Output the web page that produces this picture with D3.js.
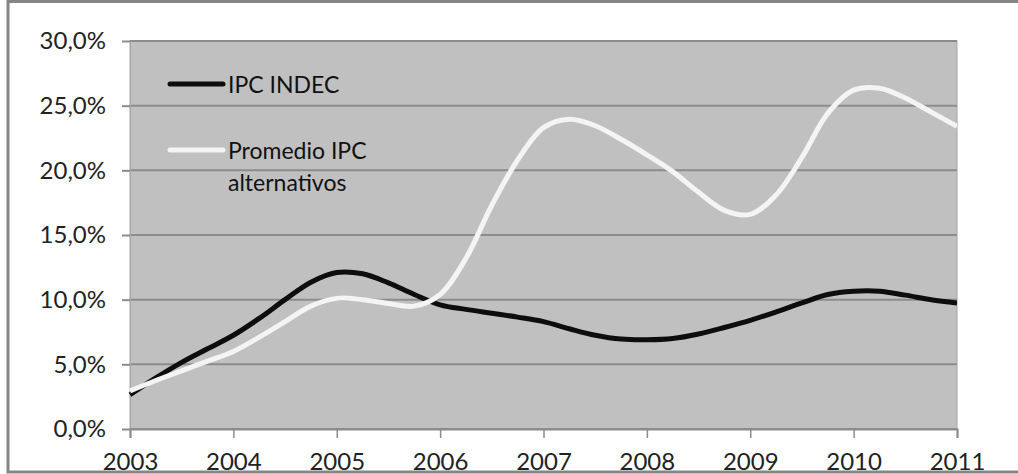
<!DOCTYPE html>
<html>
<head>
<meta charset="utf-8">
<script src="https://cdn.jsdelivr.net/npm/d3@7/dist/d3.min.js"></script>
<style>
  html, body { margin: 0; padding: 0; background: #ffffff; }
  svg { display: block; font-family: Lato, "Noto Sans", sans-serif; }
</style>
</head>
<body>
<svg id="chart" width="1018" height="474"></svg>
<script>
// Quarterly observations, 2003 Q1 through 2011 Q1 (annual inflation, %)
const periods = d3.range(0, 33).map(k => 2003 + k / 4);
const ipcIndec = [
  2.65, 3.95, 5.15, 6.2, 7.25, 8.55, 10.0, 11.35,
  12.1, 12.0, 11.3, 10.4, 9.6, 9.25, 8.95, 8.65,
  8.3, 7.75, 7.25, 6.95, 6.9, 7.0, 7.35, 7.85,
  8.4, 9.05, 9.75, 10.4, 10.65, 10.65, 10.35, 10.0,
  9.75
];
const ipcAlternativos = [
  2.95, 3.75, 4.5, 5.25, 6.0, 7.1, 8.3, 9.5,
  10.1, 10.0, 9.7, 9.5, 10.4, 13.2, 17.3, 20.8,
  23.3, 23.95, 23.45, 22.4, 21.2, 19.9, 18.3, 16.9,
  16.6, 18.1, 21.0, 24.4, 26.2, 26.35, 25.6, 24.5,
  23.4
];
const yearTicks = [2003, 2004, 2005, 2006, 2007, 2008, 2009, 2010, 2011];
const pctTicks = [0, 5, 10, 15, 20, 25, 30];
const seriesNames = ["IPC INDEC", "Promedio IPC|alternativos"];

const svg = d3.select("#chart");
const W = 1018, H = 474;
const plot = { left: 130, right: 957, top: 41, bottom: 429 };

const x = d3.scaleLinear().domain([2003, 2011]).range([plot.left, plot.right]);
const y = d3.scaleLinear().domain([0, 30]).range([plot.bottom, plot.top]);

// Plot area
svg.append("rect")
  .attr("x", plot.left).attr("y", plot.top)
  .attr("width", plot.right - plot.left).attr("height", plot.bottom - plot.top)
  .attr("fill", "#c0c0c0").attr("stroke", "#a6a6a6").attr("stroke-width", 1);

// Horizontal gridlines
svg.append("g").selectAll("line").data(pctTicks).join("line")
  .attr("x1", plot.left).attr("x2", plot.right)
  .attr("y1", d => y(d)).attr("y2", d => y(d))
  .attr("stroke", "#8c8c8c").attr("stroke-width", 2);

const fmt = d => d.toFixed(1).replace(".", ",") + "%";

// Y axis
const yAxis = svg.append("g").attr("transform", `translate(${plot.left},0)`)
  .call(d3.axisLeft(y).tickValues(pctTicks).tickFormat(fmt).tickSize(8).tickPadding(16));
yAxis.select(".domain").attr("stroke", "#a6a6a6");
yAxis.selectAll(".tick line").attr("stroke", "#8c8c8c").attr("stroke-width", 2);
yAxis.selectAll(".tick text").attr("fill", "#222").attr("font-size", 24)
  .attr("font-family", "Lato, sans-serif");

// X axis
const xAxis = svg.append("g").attr("transform", `translate(0,${plot.bottom})`)
  .call(d3.axisBottom(x).tickValues(yearTicks).tickFormat(d3.format("d")).tickSize(9).tickPadding(15));
xAxis.select(".domain").attr("stroke", "#8c8c8c").attr("stroke-width", 2);
xAxis.selectAll(".tick line").attr("stroke", "#8c8c8c").attr("stroke-width", 1.5);
xAxis.selectAll(".tick text").attr("fill", "#222").attr("font-size", 24)
  .attr("font-family", "Lato, sans-serif");

// Series lines
const line = d3.line().x((d, i) => x(periods[i])).y(d => y(d)).curve(d3.curveCatmullRom.alpha(0.5));
svg.append("clipPath").attr("id", "plotclip").append("rect")
  .attr("x", plot.left - 3).attr("y", plot.top - 3)
  .attr("width", plot.right - plot.left + 3).attr("height", plot.bottom - plot.top + 6);

svg.append("path").datum(ipcIndec).attr("d", line)
  .attr("fill", "none").attr("stroke", "#0d0d0d").attr("stroke-width", 5)
  .attr("clip-path", "url(#plotclip)");
svg.append("path").datum(ipcAlternativos).attr("d", line)
  .attr("fill", "none").attr("stroke", "#f4f4f4").attr("stroke-width", 5)
  .attr("clip-path", "url(#plotclip)");

// Legend
const legend = svg.append("g");
const legendItems = [
  { name: seriesNames[0], color: "#0d0d0d", y: 84 },
  { name: seriesNames[1], color: "#f4f4f4", y: 150 }
];
legendItems.forEach(it => {
  legend.append("line").attr("x1", 170).attr("x2", 223).attr("y1", it.y).attr("y2", it.y)
    .attr("stroke", it.color).attr("stroke-width", 5).attr("stroke-linecap", "round");
  const t = legend.append("text").attr("x", 228).attr("y", it.y + 9)
    .attr("font-size", 23).attr("fill", "#111");
  it.name.split("|").forEach((s, i) => {
    t.append("tspan").attr("x", 228).attr("dy", i === 0 ? 0 : 32).text(s);
  });
});

// Outer chart frame, drawn last so it overlaps the year labels at the bottom
svg.append("rect").attr("x", 8).attr("y", 1.5).attr("width", W + 20).attr("height", H - 3.5)
  .attr("fill", "none").attr("stroke", "#858585").attr("stroke-width", 3);
</script>
</body>
</html>
